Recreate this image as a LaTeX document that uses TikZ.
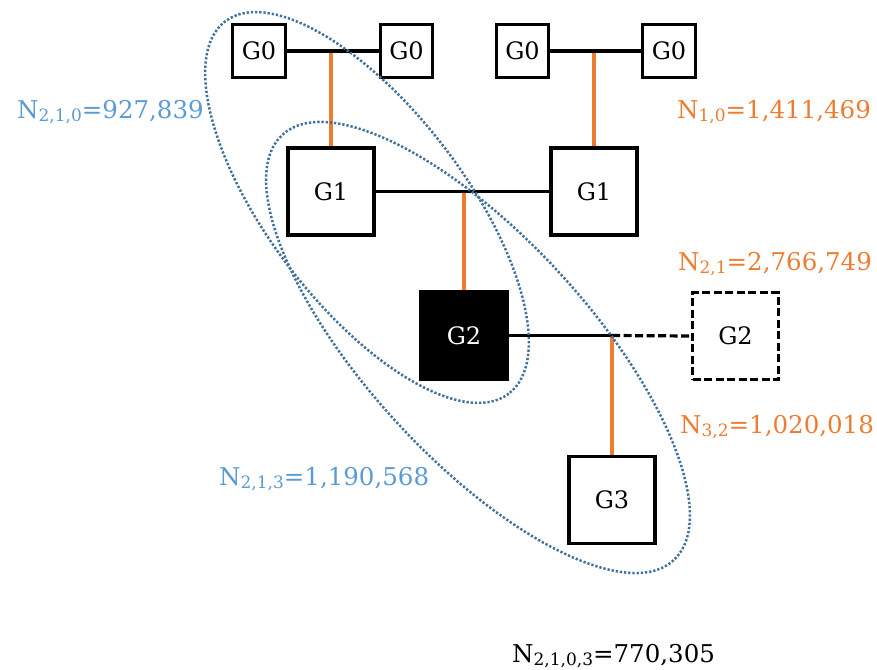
\documentclass[tikz,border=0pt]{standalone}
\usepackage{fontspec}
\setmainfont{DejaVu Serif}
\definecolor{orng}{HTML}{ED7D31}
\definecolor{lblue}{HTML}{5B9BD5}
\definecolor{dblue}{HTML}{41719C}
\newcommand\mysub[1]{\raisebox{-3pt}{\fontsize{17}{18}\selectfont #1}}
\begin{document}
\begin{tikzpicture}[x=1pt,y=-1pt,
  gbox/.style={draw=black, line width=3.4pt, fill=white, inner sep=0pt,
     font=\fontsize{24}{26}\selectfont},
  smallbox/.style={gbox, minimum width=52.5pt, minimum height=52.5pt},
  bigbox/.style={gbox, minimum width=86pt, minimum height=87pt},
  conn/.style={draw=black, line width=3.2pt},
  oconn/.style={draw=orng, line width=3.2pt},
  ell/.style={draw=dblue, line width=2.5pt, dash pattern=on 2.3pt off 1.9pt},
  lbl/.style={anchor=base west, inner sep=0pt, font=\fontsize{24.5}{27}\selectfont}]
\useasboundingbox (0,0) rectangle (877,669);

% boxes
\node[smallbox] (g0a) at (259,51) {G0};
\node[smallbox] (g0b) at (406.5,51) {G0};
\node[smallbox] (g0c) at (522.5,51) {G0};
\node[smallbox] (g0d) at (669,51) {G0};
\node[bigbox] (g1a) at (331,191.5) {G1};
\node[bigbox] (g1b) at (594,191.5) {G1};
\node[bigbox, fill=black, text=white] (g2) at (464,335.5) {G2};
\node[bigbox, dash pattern=on 8pt off 3.5pt] (g2d) at (735.5,336) {G2};
\node[bigbox] (g3) at (612,500) {G3};

% junctions
\coordinate (j0a) at (g1a |- g0a);
\coordinate (j0b) at (g1b |- g0c);
\coordinate (j1) at (g2 |- g1a);
\coordinate (j2) at (g3 |- g2);

% orange links
\draw[oconn] (j0a) -- (g1a.north);
\draw[oconn] (j0b) -- (g1b.north);
\draw[oconn] (j1) -- (g2.north);
\draw[oconn] (j2) -- (g3.north);

% black links
\draw[conn] (g0a.east) -- (g0b.west);
\draw[conn] (g0c.east) -- (g0d.west);
\draw[conn] (g1a.east) -- (g1b.west);
\draw[conn] (g2.east) -- (j2);
\draw[conn, dash pattern=on 8pt off 3.5pt] (j2) -- (g2d.west);

% ellipses
\draw[ell, rotate around={-52.7:(367,207.5)}] (367,207.5) ellipse [x radius=234, y radius=98];
\draw[ell, rotate around={-47.4:(478,347.5)}] (478,347.5) ellipse [x radius=289, y radius=110.5];

% labels
\node[lbl, text=lblue] (l210) at (17,118) {N\mysub{2,1,0}=927,839};
\node[lbl, text=orng] (l10) at (677,118) {N\mysub{1,0}=1,411,469};
\node[lbl, text=orng] (l21) at (678,270) {N\mysub{2,1}=2,766,749};
\node[lbl, text=orng] (l32) at (680,433) {N\mysub{3,2}=1,020,018};
\node[lbl, text=lblue] (l213) at (219,485) {N\mysub{2,1,3}=1,190,568};
\node[lbl, text=black] (l2103) at (512,662) {N\mysub{2,1,0,3}=770,305};
\end{tikzpicture}
\end{document}
